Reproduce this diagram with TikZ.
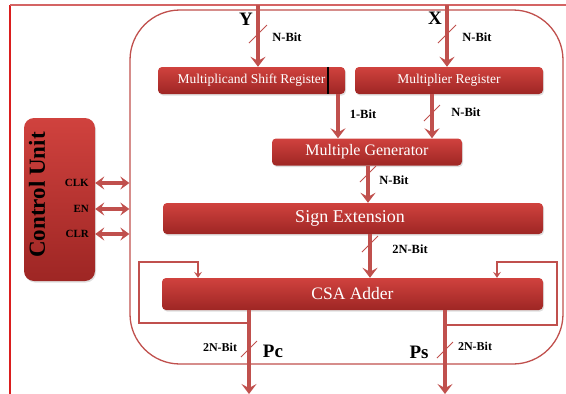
\documentclass[tikz,border=0pt]{standalone}
\usepackage{fontspec}
\setmainfont{Liberation Serif}
\usetikzlibrary{arrows.meta,shadows,calc}
\definecolor{arr}{RGB}{192,80,77}
\definecolor{btop}{RGB}{208,66,62}
\definecolor{bbot}{RGB}{158,38,36}
\definecolor{frameL}{RGB}{218,30,30}
\definecolor{frameT}{RGB}{212,100,100}
\begin{document}
\begin{tikzpicture}[x=1pt,y=-1pt,
  box/.style={rounded corners=4pt, top color=btop, bottom color=bbot, draw=none, text=white,
    drop shadow={opacity=0.25, shadow xshift=1pt, shadow yshift=-1.5pt}, inner sep=0pt},
  bus/.style={draw=arr, line width=3.4pt, -{Stealth[length=10pt,width=15pt,inset=4pt]}},
  dbl/.style={draw=arr, line width=3.2pt, {Stealth[length=9pt,width=13pt,inset=3.5pt]}-{Stealth[length=9pt,width=13pt,inset=3.5pt]}},
  fb/.style={draw=arr, line width=1.5pt, -{Stealth[length=6pt,width=8pt,inset=2.5pt]}},
  slash/.style={draw=arr, line width=1pt},
  lbl/.style={font=\bfseries\fontsize{12.5}{13}\selectfont, text=black, inner sep=0pt},
  cul/.style={font=\bfseries\fontsize{11}{12}\selectfont, text=black, inner sep=0pt},
  big/.style={font=\bfseries\fontsize{19}{20}\selectfont, text=black, inner sep=0pt}
]
\useasboundingbox (0,0) rectangle (566,394);
% frame
\draw[frameL, line width=1.5pt] (10,394) -- (10,5);
\draw[frameT, line width=2pt] (10,5) -- (566,5);
% outer rounded box
\node[draw=arr, line width=1.3pt, rounded corners=50pt, minimum width=433pt, minimum height=354pt, inner sep=0pt] (outer) at (346.5,187) {};

% boxes
\node[box, minimum width=187pt, minimum height=27pt, font=\fontsize{13.5}{14}\selectfont] (msr) at (251.5,80.5) {Multiplicand Shift Register\hspace{14pt}};
\node[box, minimum width=188pt, minimum height=27pt, font=\fontsize{13.5}{14}\selectfont] (mr) at (449,80.5) {Multiplier Register};
\node[box, minimum width=190pt, minimum height=27pt, font=\fontsize{16}{17}\selectfont] (mg) at (367,152) {Multiple Generator};
\node[box, minimum width=380pt, minimum height=31pt, font=\fontsize{18}{19}\selectfont] (se) at (353,218.5) {\hspace{-6pt}Sign Extension};
\node[box, minimum width=381pt, minimum height=32pt, font=\fontsize{17.5}{18}\selectfont] (csa) at (352.5,294) {CSA Adder};
\draw[black, line width=1.5pt] ($(msr.north west)+(170,0)$) -- ($(msr.south west)+(170,0)$);

% control unit
\node[box, rounded corners=10pt, minimum width=71pt, minimum height=163pt] (cu) at (59.5,199.5) {};
\node[font=\bfseries\fontsize{23}{24}\selectfont, inner sep=0pt, rotate=90] (cut) at (37,195) {Control Unit};
\node[cul, anchor=east] (clk) at (89,183) {CLK};
\node[cul, anchor=east] (en) at (89,209) {EN};
\node[cul, anchor=east] (clr) at (89,234) {CLR};
\draw[dbl] (cu.east |- clk) -- (outer.west |- clk);
\draw[dbl] (cu.east |- en) -- (outer.west |- en);
\draw[dbl] (cu.east |- clr) -- (outer.west |- clr);

% inputs
\coordinate (ytop) at (258,5);
\coordinate (xtop) at (447,5);
\node[big] (ylab) at (246,19) {Y};
\node[big] (xlab) at (435,18) {X};
\draw[bus] (ytop) -- (ytop |- msr.north);
\draw[bus] (xtop) -- (xtop |- mr.north);
\draw[slash] (258,34) +(-9,9) -- +(9,-9);
\draw[slash] (447,34) +(-9,9) -- +(9,-9);
\node[lbl] (yn) at (287,37) {N-Bit};
\node[lbl] (xn) at (477,37) {N-Bit};

% register outputs
\coordinate (onebit) at (338,0);
\coordinate (nbit) at (432,0);
\draw[bus] (onebit |- msr.south) -- (onebit |- mg.north);
\draw[bus] (nbit |- mr.south) -- (nbit |- mg.north);
\node[lbl] (ob) at (363,114) {1-Bit};
\draw[slash] (432,113) +(-8,8) -- +(8,-8);
\node[lbl] (nb) at (466,112) {N-Bit};

% MG -> SE
\coordinate (mgx) at (368,0);
\draw[bus] (mgx |- mg.south) -- (mgx |- se.north);
\draw[slash] (368,174) +(-8,8) -- +(8,-8);
\node[lbl] (nb2) at (394,180) {N-Bit};

% SE -> CSA
\coordinate (sex) at (370,0);
\draw[bus] (sex |- se.south) -- (sex |- csa.north);
\draw[slash] (370,244) +(-8,8) -- +(8,-8);
\node[lbl] (nb3) at (410,249) {2N-Bit};

% outputs
\coordinate (pcx) at (249,394);
\coordinate (psx) at (445,394);
\draw[bus] (pcx |- csa.south) -- (pcx);
\draw[bus] (psx |- csa.south) -- (psx);
\draw[slash] (249,349) +(-8,8) -- +(8,-8);
\draw[slash] (445,350) +(-8,8) -- +(8,-8);
\node[lbl, font=\bfseries\fontsize{12}{13}\selectfont] (pcn) at (220,347) {2N-Bit};
\node[lbl, font=\bfseries\fontsize{12}{13}\selectfont] (psn) at (475,346) {2N-Bit};
\node[big] (pc) at (273,351) {Pc};
\node[big] (ps) at (419,352) {Ps};

% feedback loops
\coordinate (lf1) at (249,323);
\coordinate (lf2) at (139,323);
\coordinate (lf3) at (139,262);
\coordinate (lf4) at (198,262);
\draw[fb] (lf1) -- (lf2) -- (lf3) -- (lf4) -- (lf4 |- csa.north);
\coordinate (rf1) at (445,325);
\coordinate (rf2) at (557,325);
\coordinate (rf3) at (557,262);
\coordinate (rf4) at (497,262);
\draw[fb] (rf1) -- (rf2) -- (rf3) -- (rf4) -- (rf4 |- csa.north);
\end{tikzpicture}
\end{document}
